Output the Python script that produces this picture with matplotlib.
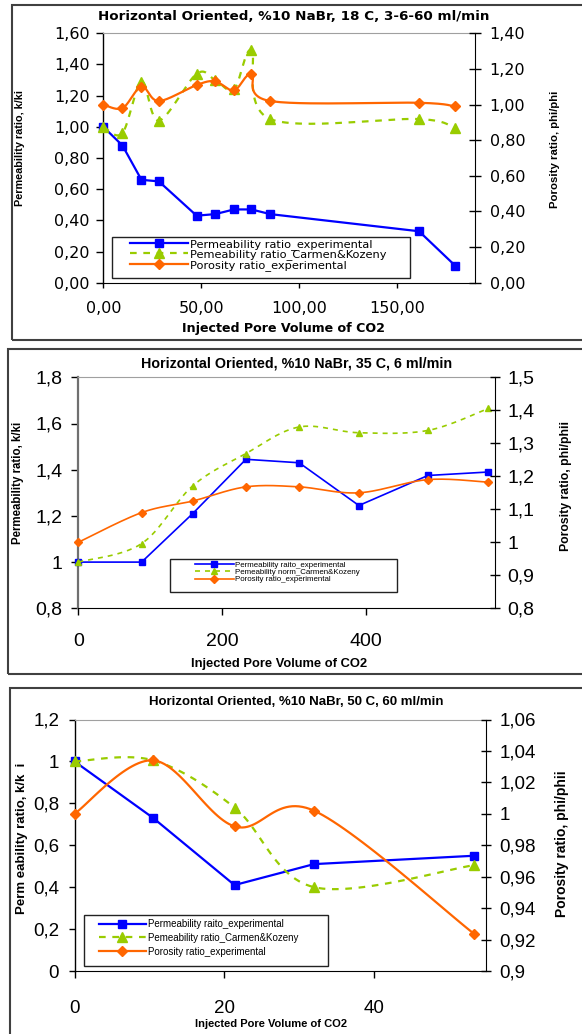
import numpy as np
import matplotlib
matplotlib.use("Agg")
import matplotlib.pyplot as plt
from matplotlib.lines import Line2D
from matplotlib.patches import Rectangle
from matplotlib.ticker import FixedLocator, FuncFormatter
from matplotlib import font_manager

# ---------------- data ----------------
# Panel 1: 18 C
p1_x = [0, 9.8, 19.5, 28.4, 47.7, 57.2, 66.8, 75.7, 85.3, 161.4, 179.8]
p1_perm_exp = [1.00, 0.88, 0.66, 0.65, 0.43, 0.44, 0.47, 0.47, 0.44, 0.33, 0.11]
p1_perm_ck = [1.00, 0.96, 1.29, 1.04, 1.34, 1.30, 1.24, 1.49, 1.05, 1.05, 0.99]
p1_por_exp = [1.00, 0.98, 1.10, 1.02, 1.11, 1.13, 1.08, 1.17, 1.02, 1.01, 0.99]
p1_xticks = [0, 50, 100, 150]
p1_yl_ticks = [0, 0.2, 0.4, 0.6, 0.8, 1.0, 1.2, 1.4, 1.6]
p1_yr_ticks = [0, 0.2, 0.4, 0.6, 0.8, 1.0, 1.2, 1.4]

# Panel 2: 35 C
p2_x = [0, 88, 159, 233, 307, 390, 486, 570]
p2_perm_exp = [1.00, 1.00, 1.21, 1.445, 1.43, 1.245, 1.375, 1.39]
p2_perm_ck = [1.00, 1.08, 1.33, 1.47, 1.585, 1.56, 1.57, 1.665]
p2_por_exp = [1.00, 1.09, 1.125, 1.168, 1.168, 1.15, 1.19, 1.182]
p2_xticks = [0, 200, 400]
p2_yl_ticks = [0.8, 1.0, 1.2, 1.4, 1.6, 1.8]
p2_yr_ticks = [0.8, 0.9, 1.0, 1.1, 1.2, 1.3, 1.4, 1.5]

# Panel 3: 50 C
p3_x = [0, 10.5, 21.35, 31.95, 53.35]
p3_perm_exp = [1.00, 0.73, 0.41, 0.51, 0.55]
p3_perm_ck = [1.00, 1.005, 0.78, 0.40, 0.505]
p3_por_exp = [1.000, 1.034, 0.992, 1.002, 0.9235]
p3_xticks = [0, 20, 40]
p3_yl_ticks = [0, 0.2, 0.4, 0.6, 0.8, 1.0, 1.2]
p3_yr_ticks = [0.90, 0.92, 0.94, 0.96, 0.98, 1.00, 1.02, 1.04, 1.06]

p1_title = "Horizontal Oriented, %10 NaBr, 18 C, 3-6-60 ml/min"
p2_title = "Horizontal Oriented, %10 NaBr, 35 C, 6 ml/min"
p3_title = "Horizontal Oriented, %10 NaBr, 50 C, 60 ml/min"
xlabel_txt = "Injected Pore Volume of CO2"
p1_labels = ["Permeability ratio_experimental", "Pemeability ratio_Carmen&Kozeny",
             "Porosity ratio_experimental"]
p2_labels = ["Permeability raito_experimental", "Pemeability norm_Carmen&Kozeny",
             "Porosity ratio_experimental"]
p3_labels = ["Permeability raito_experimental", "Pemeability ratio_Carmen&Kozeny",
             "Porosity ratio_experimental"]

BLUE = "#0000FF"
GREEN = "#99CC00"
ORANGE = "#FF6600"

names = {f.name for f in font_manager.fontManager.ttflist}
HAS_NARROW = "Liberation Sans Narrow" in names
NARROW = ["Liberation Sans Narrow", "Liberation Sans"] if HAS_NARROW else ["Liberation Sans"]
ARIAL = ["Liberation Sans", "DejaVu Sans"]
DEJAVU = ["DejaVu Sans"]

W, H = 582, 1034
fig = plt.figure(figsize=(W / 100, H / 100), dpi=100)


def fx(px):
    return px / W


def fy(py):
    return 1 - py / H


def rect_px(l, t, r, b):
    return [fx(l), fy(b), (r - l) / W, (b - t) / H]


def smooth(x, y, n=30):
    P = np.column_stack([np.asarray(x, float), np.asarray(y, float)])
    P = np.vstack([P[0], P, P[-1]])
    segs = []
    t = np.linspace(0, 1, n)[:, None]
    for i in range(1, len(P) - 2):
        p0, p1, p2, p3 = P[i - 1], P[i], P[i + 1], P[i + 2]
        c1 = p1 + (p2 - p0) / 6
        c2 = p2 - (p3 - p1) / 6
        seg = (1 - t) ** 3 * p1 + 3 * (1 - t) ** 2 * t * c1 + 3 * (1 - t) * t ** 2 * c2 + t ** 3 * p2
        segs.append(seg if i == 1 else seg[1:])
    S = np.vstack(segs)
    return S[:, 0], S[:, 1]


def comma2(v, pos):
    return f"{v:.2f}".replace(".", ",")


def commag(v, pos):
    return f"{round(v, 4):g}".replace(".", ",")


def frame(l, t, r, b, lw=1.2, color="#333333"):
    fig.patches.append(Rectangle((fx(l), fy(b)), (r - l) / W, (b - t) / H,
                                 transform=fig.transFigure, fill=False,
                                 lw=lw, edgecolor=color, zorder=10))


def panel(rect, x, perm, ck, por, xlim, xticks, yl_lim, yl_ticks, yr_lim, yr_ticks,
          fmt, tick_font, tick_size, lw, ms, dash, xpad, xlen, ylpad, yllen, yrpad, yrlen,
          leftspine_color="black", leftspine_lw=1.0):
    ax = fig.add_axes(rect)
    ax2 = ax.twinx()
    ax.plot(x, perm, color=BLUE, lw=lw, marker="s", ms=ms[0], zorder=3, clip_on=False)
    sx, sy = smooth(x, ck)
    ax.plot(sx, sy, color=GREEN, lw=lw, ls=(0, dash), zorder=4)
    ax.plot(x, ck, ls="none", marker="^", ms=ms[1], color=GREEN, zorder=5, clip_on=False)
    sx, sy = smooth(x, por)
    ax2.plot(sx, sy, color=ORANGE, lw=lw, zorder=3)
    ax2.plot(x, por, ls="none", marker="D", ms=ms[2], color=ORANGE, zorder=4, clip_on=False)

    ax.set_xlim(*xlim)
    ax.set_ylim(*yl_lim)
    ax2.set_ylim(*yr_lim)
    ax.xaxis.set_major_locator(FixedLocator(xticks))
    ax.yaxis.set_major_locator(FixedLocator(yl_ticks))
    ax2.yaxis.set_major_locator(FixedLocator(yr_ticks))
    ax.xaxis.set_major_formatter(FuncFormatter(fmt))
    ax.yaxis.set_major_formatter(FuncFormatter(fmt))
    ax2.yaxis.set_major_formatter(FuncFormatter(fmt))

    ax.tick_params(axis="x", direction="out", length=xlen, pad=xpad, labelsize=tick_size,
                   labelfontfamily=tick_font, width=1)
    ax.tick_params(axis="y", direction="out", length=yllen, pad=ylpad, labelsize=tick_size,
                   labelfontfamily=tick_font, width=1)
    ax2.tick_params(axis="y", direction="inout", length=yrlen, pad=yrpad, labelsize=tick_size,
                    labelfontfamily=tick_font, width=1)

    ax.spines["top"].set_color("#A0A0A0")
    ax.spines["right"].set_visible(False)
    ax.spines["left"].set_color(leftspine_color)
    ax.spines["left"].set_linewidth(leftspine_lw)
    for s in ["top", "left", "bottom"]:
        ax2.spines[s].set_visible(False)
    ax2.spines["right"].set_color("black")
    return ax, ax2


def legend(ax2, labels, lw, ms, dash, hx, ty, fsize, family, hlen, htp, lsp):
    handles = [
        Line2D([], [], color=BLUE, lw=lw, marker="s", ms=ms[0]),
        Line2D([], [], color=GREEN, lw=lw, ls=(0, dash), marker="^", ms=ms[1]),
        Line2D([], [], color=ORANGE, lw=lw, marker="D", ms=ms[2]),
    ]
    leg = ax2.legend(handles, labels, loc="upper left", bbox_to_anchor=(fx(hx), fy(ty)),
                     bbox_transform=fig.transFigure, frameon=False, borderpad=0,
                     borderaxespad=0, handlelength=hlen, handletextpad=htp,
                     labelspacing=lsp, numpoints=1, prop={"family": family, "size": fsize})
    return leg


# ---------------- panel 1 ----------------
ms1 = (6, 7, 5.5)
ax, ax2 = panel(rect_px(103.3, 33.3, 475, 282.7), p1_x, p1_perm_exp, p1_perm_ck, p1_por_exp,
                (0, 190), p1_xticks, (0, 1.6), p1_yl_ticks, (0, 1.4), p1_yr_ticks,
                comma2, DEJAVU, 11.5, 1.6, ms1, (3, 3), xpad=9.5, xlen=3.5, ylpad=5, yllen=5,
                yrpad=6.5, yrlen=8)
legend(ax2, p1_labels, 1.6, ms1, (3, 3), 130, 239, 8.2, DEJAVU, 5.1, 0.2, -0.05)
frame(112.2, 237, 409.5, 278, lw=1.0, color="#222222")
fig.text(fx(294), fy(16), p1_title, ha="center", va="center", fontsize=9.7,
         fontweight="bold", family=DEJAVU)
fig.text(fx(283), fy(329), xlabel_txt, ha="center", va="center", fontsize=9.1,
         fontweight="bold", family=DEJAVU)
fig.text(fx(20), fy(147.5), "Permeability ratio, k/ki", ha="center", va="center",
         rotation=90, fontsize=7.8, fontweight="bold", family=ARIAL)
fig.text(fx(555), fy(149), "Porosity ratio, phi/phi", ha="center", va="center",
         rotation=90, fontsize=8.2, fontweight="bold", family=ARIAL)
frame(11.5, 5, 600, 340, lw=1.5, color="#404040")

# ---------------- panel 2 ----------------
ms2 = (4.5, 5, 4.2)
ax, ax2 = panel(rect_px(78.3, 377.3, 494.5, 608.3), p2_x, p2_perm_exp, p2_perm_ck, p2_por_exp,
                (0, 578.5), p2_xticks, (0.8, 1.8), p2_yl_ticks, (0.8, 1.5), p2_yr_ticks,
                commag, ARIAL, 14, 1.2, ms2, (3, 3), xpad=13, xlen=5, ylpad=6.5, yllen=5,
                yrpad=6, yrlen=7, leftspine_color="#707070", leftspine_lw=1.6)
legend(ax2, p2_labels, 1.2, ms2, (3, 3), 195, 561, 5.7, ARIAL, 4.9, 0.1, -0.02)
frame(170.4, 559, 397, 592, lw=1.0, color="#222222")
fig.text(fx(297), fy(363), p2_title, ha="center", va="center", fontsize=10.3,
         fontweight="bold", family=ARIAL)
fig.text(fx(279), fy(664), xlabel_txt, ha="center", va="center", fontsize=9.3,
         fontweight="bold", family=ARIAL)
fig.text(fx(18), fy(482.5), "Permeability ratio, k/ki", ha="center", va="center",
         rotation=90, fontsize=8.3, fontweight="bold", family=ARIAL)
fig.text(fx(566), fy(486), "Porosity ratio, phi/phii", ha="center", va="center",
         rotation=90, fontsize=8.8, fontweight="bold", family=ARIAL)
frame(8.2, 349, 600, 674.3, lw=1.5, color="#404040")

# ---------------- panel 3 ----------------
ms3 = (5.5, 6.5, 5.5)
ax, ax2 = panel(rect_px(74.5, 719.5, 486, 971), p3_x, p3_perm_exp, p3_perm_ck, p3_por_exp,
                (0, 54.9), p3_xticks, (0, 1.2), p3_yl_ticks, (0.9, 1.06), p3_yr_ticks,
                commag, ARIAL, 13.5, 1.6, ms3, (3, 3), xpad=16, xlen=5, ylpad=6.5, yllen=4.5,
                yrpad=6, yrlen=7)
if HAS_NARROW:
    legend(ax2, p3_labels, 1.6, ms3, (3, 3), 99, 919, 9.0, NARROW, 3.8, 0.2, -0.02)
    t_size, x_size = 11.5, 9.8
else:
    legend(ax2, p3_labels, 1.6, ms3, (3, 3), 99, 919, 7.0, ARIAL, 4.8, 0.2, 0.4)
    t_size, x_size = 9.5, 8.0
frame(84, 915, 328, 966, lw=1.0, color="#222222")
fig.text(fx(296.5), fy(702), p3_title, ha="center", va="center", fontsize=t_size,
         fontweight="bold", family=NARROW)
fig.text(fx(271.5), fy(1024), xlabel_txt, ha="center", va="center", fontsize=x_size,
         fontweight="bold", family=NARROW)
fig.text(fx(22), fy(838), "Perm eability ratio, k/k  i", ha="center", va="center",
         rotation=90, fontsize=9.5, fontweight="bold", family=ARIAL)
fig.text(fx(562), fy(843.5), "Porosity ratio, phi/phii", ha="center", va="center",
         rotation=90, fontsize=10, fontweight="bold", family=ARIAL)
frame(10, 688, 600, 1060, lw=1.5, color="#404040")

fig.savefig("out.png", dpi=100)
